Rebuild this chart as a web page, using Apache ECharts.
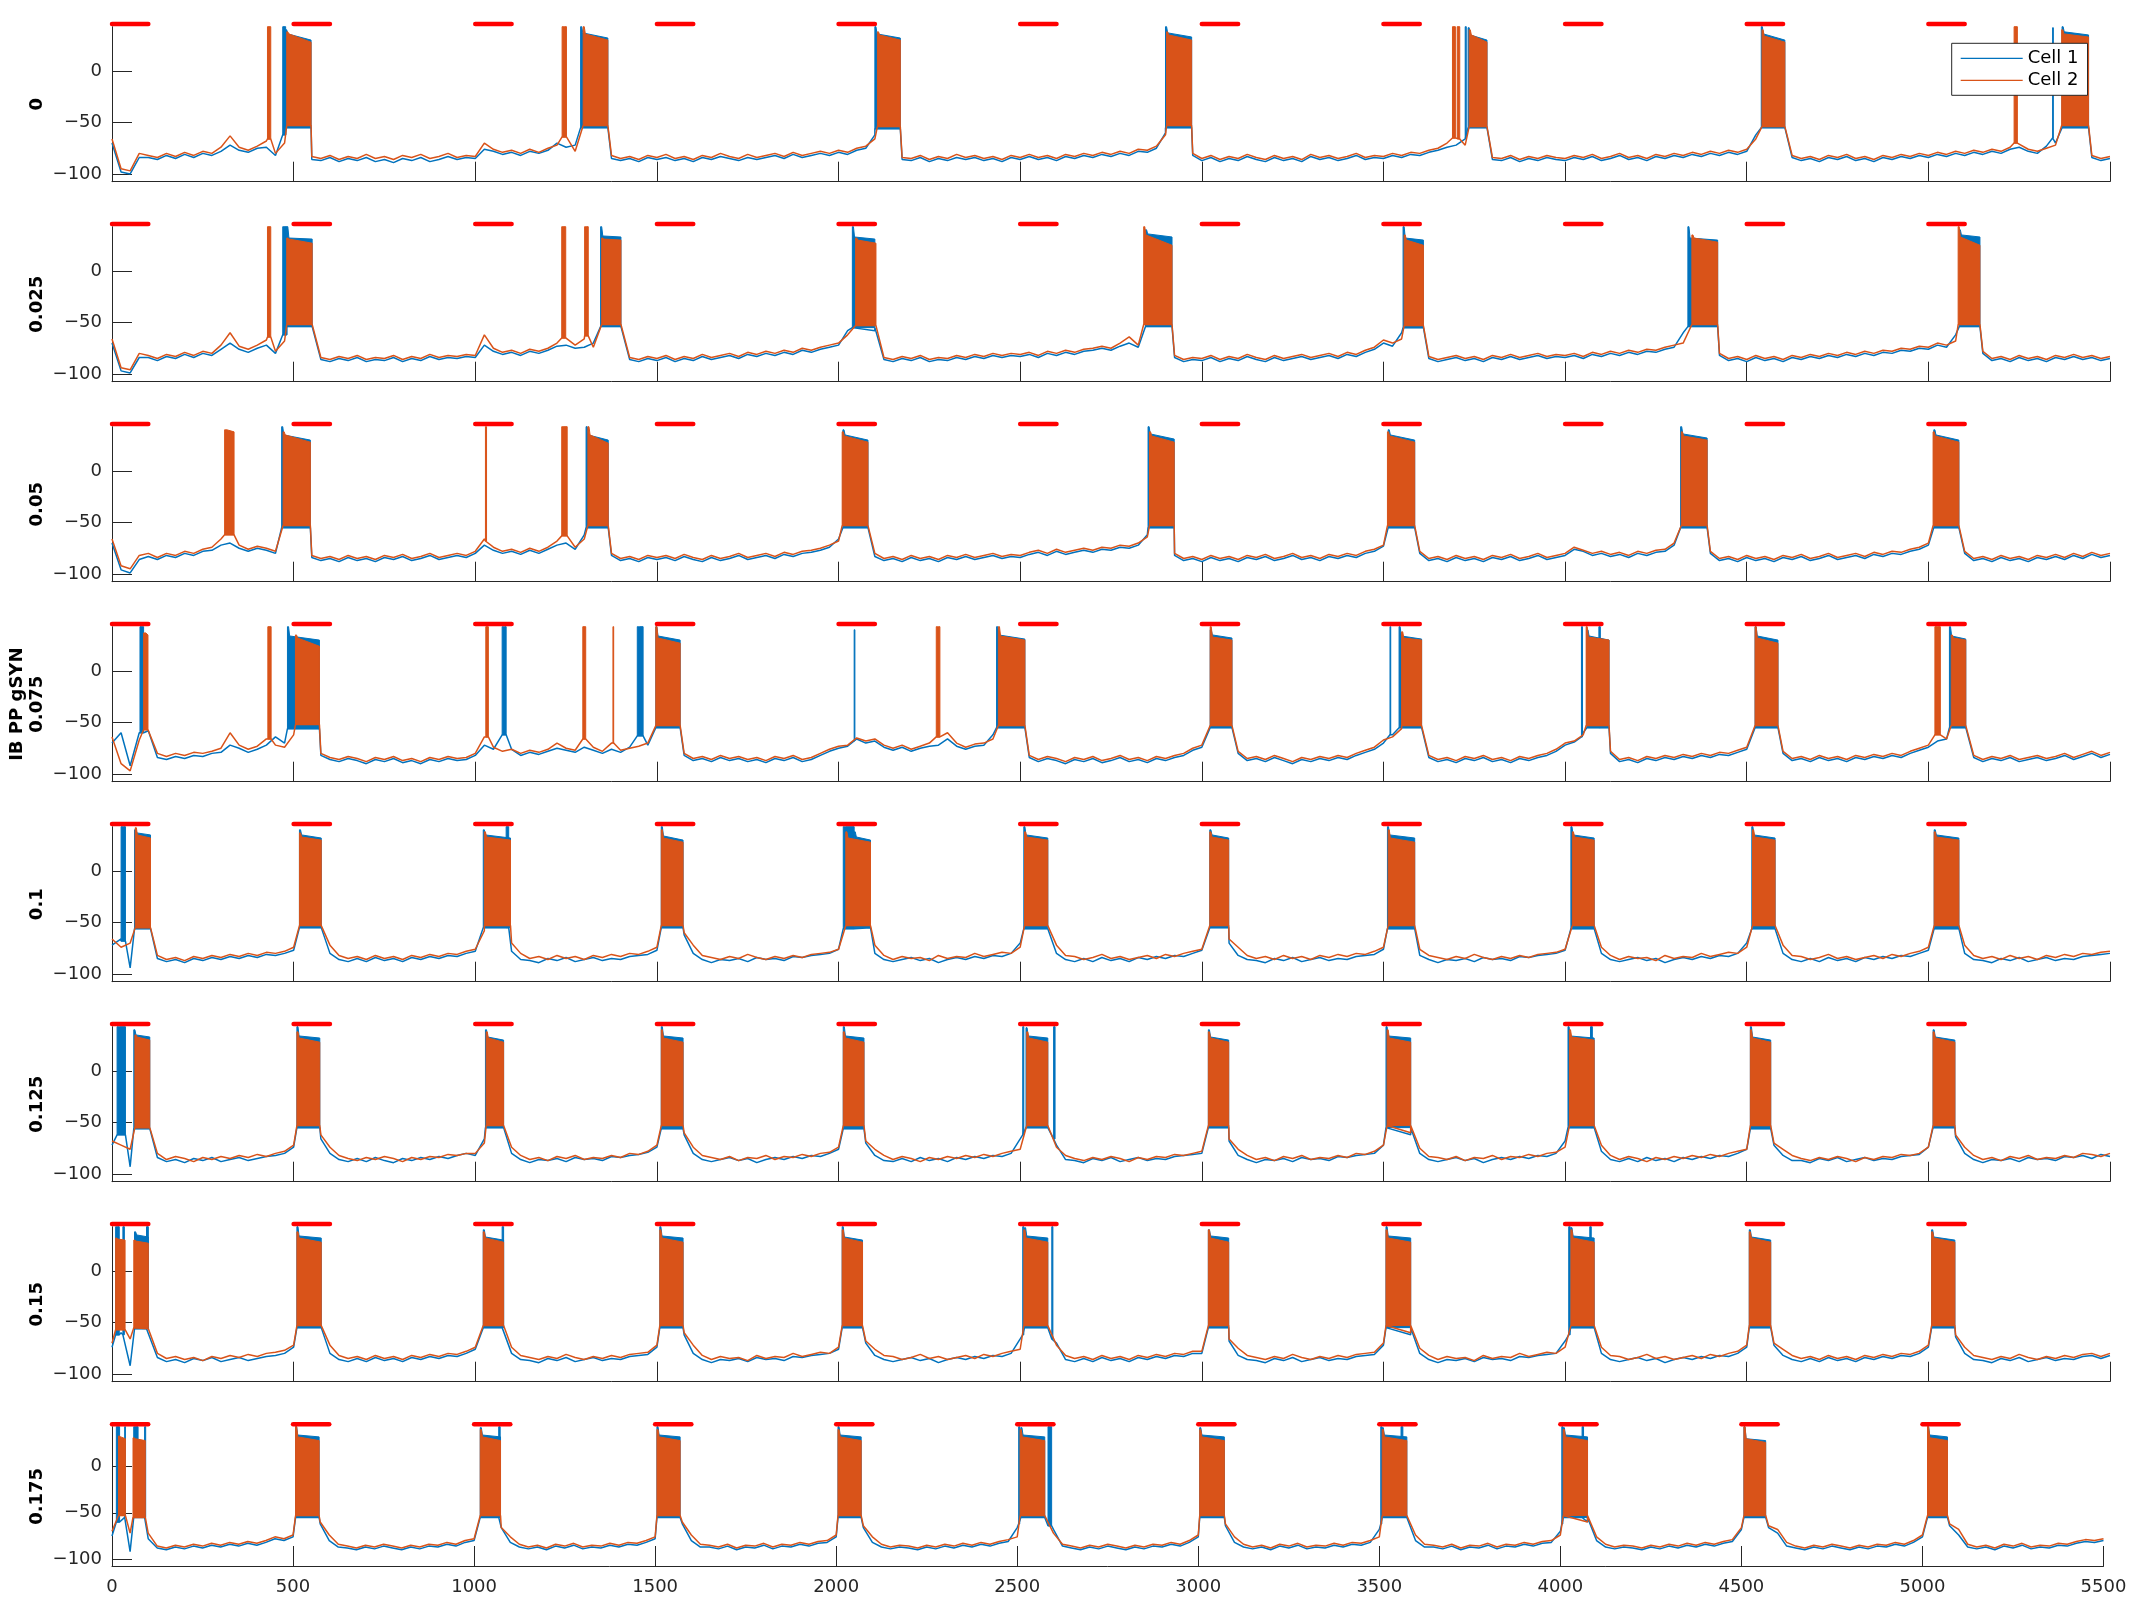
<!DOCTYPE html>
<html><head><meta charset="utf-8">
<script src="https://cdn.jsdelivr.net/npm/echarts@6/dist/echarts.min.js"></script>
<style>html,body{margin:0;padding:0;background:#fff}#chart{width:2133px;height:1600px}</style>
</head><body><div id="chart"></div>
<script>
// ---------- DATA ----------
const gsynLabels = ['0', '0.025', '0.05', '0.075', '0.1', '0.125', '0.15', '0.175'];
const yAxisTitle = 'IB PP gSYN';
const seriesNames = ['Cell 1', 'Cell 2'];
const stimStarts = [0, 500, 1000, 1500, 2000, 2500, 3000, 3500, 4000, 4500, 5000];
const stimDuration = 100;
const stimLevel = 45.6;
const sampleStep = 25;           // ms between trace samples
const xMin = 0, xMax = 5500, xStep = 500;
const yMin = -107.5, yMax = 43;
const yTicks = [-100, -50, 0];

// membrane traces (mV) between bursts, one value every 25 ms from 0 to 5500 ms
const cell2_g0 = [
-66,-95,-97,-80,-82,-84,-80,-83,-79,-82,-78,-80,-74,-63,-74,-77,-73,-68,-80,-70,
-55,-54,-83,-85,-82,-86,-83,-85,-81,-85,-83,-86,-82,-84,-81,-85,-83,-80,-84,-82,
-83,-70,-76,-79,-77,-80,-76,-79,-75,-72,-66,-78,-55,-54,-55,-82,-85,-83,-86,-82,
-84,-81,-85,-83,-86,-82,-84,-80,-83,-85,-81,-84,-82,-80,-83,-79,-82,-80,-78,-80,
-77,-79,-75,-73,-66,-55,-54,-84,-85,-82,-86,-83,-85,-81,-84,-82,-85,-83,-86,-82,
-84,-81,-84,-82,-85,-81,-83,-80,-82,-79,-81,-78,-80,-76,-77,-73,-62,-54,-54,-80,
-85,-82,-86,-83,-85,-81,-84,-86,-82,-85,-83,-86,-81,-84,-82,-85,-83,-80,-84,-82,
-83,-80,-82,-79,-80,-77,-75,-70,-64,-72,-55,-54,-84,-85,-82,-86,-83,-85,-82,-84,
-85,-82,-84,-81,-85,-83,-80,-84,-82,-85,-81,-83,-80,-82,-79,-81,-78,-80,-77,-79,
-76,-66,-55,-54,-55,-82,-85,-83,-86,-82,-84,-81,-85,-83,-86,-82,-84,-81,-83,-80,
-82,-79,-81,-78,-80,-77,-79,-76,-78,-74,-70,-76,-78,-75,-72,-56,-54,-54,-82,-85,-83];
const cell1_g0 = [
-70,-98,-100,-84,-84,-86,-82,-85,-81,-84,-80,-82,-78,-72,-77,-79,-75,-74,-82,-60,
-56,-55,-86,-87,-84,-88,-85,-87,-84,-88,-86,-89,-85,-87,-84,-88,-86,-83,-86,-84,
-85,-76,-78,-81,-79,-82,-78,-80,-77,-70,-74,-72,-57,-55,-56,-85,-87,-85,-88,-84,
-86,-84,-87,-85,-88,-84,-86,-83,-85,-87,-84,-86,-84,-82,-85,-81,-84,-82,-80,-82,
-79,-81,-77,-75,-62,-56,-56,-86,-87,-84,-88,-85,-87,-84,-86,-84,-87,-85,-88,-84,
-86,-83,-86,-84,-87,-83,-85,-82,-84,-81,-83,-80,-82,-78,-79,-75,-60,-56,-55,-82,
-87,-84,-88,-85,-87,-83,-86,-88,-84,-87,-85,-88,-83,-86,-84,-87,-85,-82,-86,-84,
-85,-82,-84,-81,-82,-79,-77,-74,-72,-66,-56,-55,-86,-87,-84,-88,-85,-87,-84,-86,
-87,-84,-86,-83,-87,-85,-82,-86,-84,-87,-83,-85,-82,-84,-81,-83,-80,-82,-79,-81,
-78,-62,-56,-55,-56,-84,-87,-85,-88,-84,-86,-83,-87,-85,-88,-84,-86,-83,-85,-82,
-84,-81,-83,-80,-82,-79,-81,-78,-80,-76,-74,-78,-80,-73,-70,-57,-56,-56,-84,-87,-85];
const cell2_g025 = [
-66,-94,-96,-80,-82,-85,-81,-83,-79,-82,-78,-80,-72,-60,-73,-76,-72,-67,-78,-68,
-55,-53,-58,-84,-86,-83,-85,-82,-86,-84,-85,-82,-86,-83,-85,-81,-84,-82,-83,-81,
-82,-62,-75,-79,-77,-80,-76,-78,-75,-70,-66,-72,-66,-74,-56,-53,-56,-84,-86,-83,
-85,-82,-86,-83,-85,-81,-84,-82,-80,-83,-79,-81,-78,-80,-77,-79,-75,-77,-74,-72,
-70,-62,-55,-53,-56,-84,-86,-83,-85,-82,-86,-84,-85,-82,-84,-81,-83,-80,-82,-80,
-81,-79,-82,-78,-80,-77,-79,-76,-75,-73,-75,-70,-64,-72,-55,-53,-54,-82,-86,-84,
-85,-82,-86,-83,-85,-81,-84,-86,-82,-85,-83,-81,-84,-82,-80,-83,-79,-81,-77,-74,
-67,-70,-66,-54,-55,-83,-86,-84,-82,-85,-83,-86,-82,-84,-81,-84,-82,-80,-83,-81,
-82,-80,-83,-79,-81,-78,-80,-77,-79,-76,-77,-74,-72,-70,-56,-53,-54,-80,-85,-83,
-86,-82,-85,-83,-86,-82,-84,-81,-83,-80,-82,-79,-81,-78,-80,-77,-78,-75,-76,-73,
-74,-70,-72,-68,-54,-53,-78,-85,-83,-86,-82,-85,-83,-86,-82,-84,-81,-84,-82,-85,-83];
const cell1_g025 = [
-70,-97,-99,-84,-84,-87,-83,-85,-81,-84,-80,-82,-76,-70,-76,-79,-75,-72,-80,-62,
-56,-55,-60,-86,-88,-85,-87,-84,-88,-86,-87,-84,-88,-85,-87,-83,-86,-84,-85,-83,
-84,-72,-78,-81,-79,-82,-78,-80,-77,-73,-72,-75,-74,-70,-57,-55,-58,-86,-88,-85,
-87,-84,-88,-85,-87,-83,-86,-84,-82,-85,-81,-83,-80,-82,-79,-81,-77,-79,-76,-74,
-72,-58,-56,-55,-58,-86,-88,-85,-87,-84,-88,-86,-87,-84,-86,-83,-85,-82,-84,-82,
-83,-81,-84,-80,-82,-79,-81,-78,-77,-75,-77,-73,-70,-74,-56,-55,-56,-84,-88,-86,
-87,-84,-88,-85,-87,-83,-86,-88,-84,-87,-85,-83,-86,-84,-82,-85,-81,-83,-79,-76,
-70,-73,-60,-56,-56,-85,-88,-86,-84,-87,-85,-88,-84,-86,-83,-86,-84,-82,-85,-83,
-84,-82,-85,-81,-83,-80,-82,-79,-81,-78,-79,-76,-74,-60,-56,-55,-56,-82,-87,-85,
-88,-84,-87,-85,-88,-84,-86,-83,-85,-82,-84,-81,-83,-80,-82,-79,-80,-77,-78,-75,
-76,-72,-74,-62,-56,-55,-80,-87,-85,-88,-84,-87,-85,-88,-84,-86,-83,-86,-84,-87,-85];
const cell2_g05 = [
-66,-92,-95,-82,-80,-84,-80,-82,-78,-80,-76,-74,-66,-62,-72,-76,-73,-75,-78,-60,
-54,-53,-82,-85,-83,-86,-82,-85,-83,-86,-82,-84,-81,-85,-83,-80,-84,-82,-80,-82,
-78,-66,-74,-78,-76,-79,-75,-78,-74,-68,-63,-74,-66,-54,-53,-80,-85,-83,-86,-82,
-84,-82,-85,-81,-84,-86,-82,-85,-83,-80,-84,-82,-80,-83,-79,-81,-78,-77,-75,-72,
-68,-55,-54,-54,-80,-85,-83,-86,-82,-85,-83,-86,-82,-84,-81,-84,-82,-80,-83,-81,
-82,-79,-77,-80,-76,-79,-77,-75,-77,-74,-75,-72,-73,-70,-64,-54,-54,-80,-85,-83,
-86,-82,-85,-83,-86,-82,-84,-81,-85,-83,-80,-84,-82,-85,-81,-83,-80,-82,-78,-76,
-72,-55,-54,-54,-78,-85,-83,-86,-82,-85,-83,-86,-82,-84,-81,-85,-83,-80,-84,-82,
-80,-74,-77,-80,-78,-81,-79,-82,-78,-80,-77,-76,-70,-55,-54,-54,-78,-85,-83,-86,
-82,-85,-83,-86,-82,-84,-81,-85,-83,-80,-84,-82,-80,-83,-79,-81,-78,-79,-76,-74,
-70,-55,-54,-55,-78,-85,-83,-86,-82,-85,-83,-86,-82,-84,-81,-84,-80,-83,-79,-82,-80];
const cell1_g05 = [
-70,-96,-99,-86,-83,-86,-82,-84,-80,-82,-78,-77,-72,-70,-75,-78,-75,-77,-80,-58,
-56,-55,-84,-87,-85,-88,-84,-87,-85,-88,-84,-86,-83,-87,-85,-82,-86,-84,-82,-84,
-80,-72,-77,-80,-78,-81,-77,-80,-76,-72,-70,-76,-62,-56,-55,-82,-87,-85,-88,-84,
-86,-84,-87,-83,-86,-88,-84,-87,-85,-82,-86,-84,-82,-85,-81,-83,-80,-79,-77,-74,
-66,-56,-56,-56,-83,-87,-85,-88,-84,-87,-85,-88,-84,-86,-83,-86,-84,-82,-85,-83,
-84,-81,-79,-82,-78,-81,-79,-77,-79,-76,-77,-74,-75,-72,-62,-56,-56,-82,-87,-85,
-88,-84,-87,-85,-88,-84,-86,-83,-87,-85,-82,-86,-84,-87,-83,-85,-82,-84,-80,-78,
-73,-56,-56,-56,-80,-87,-85,-88,-84,-87,-85,-88,-84,-86,-83,-87,-85,-82,-86,-84,
-82,-76,-78,-82,-80,-83,-81,-84,-80,-82,-79,-78,-72,-56,-56,-56,-80,-87,-85,-88,
-84,-87,-85,-88,-84,-86,-83,-87,-85,-82,-86,-84,-82,-85,-81,-83,-80,-81,-78,-76,
-72,-56,-56,-56,-80,-87,-85,-88,-84,-87,-85,-88,-84,-86,-83,-86,-82,-85,-81,-84,-82];
const cell2_g075 = [
-64,-90,-97,-67,-57,-80,-83,-80,-82,-79,-80,-78,-75,-60,-72,-76,-73,-66,-72,-74,
-62,-53,-53,-80,-84,-86,-83,-85,-88,-84,-86,-83,-87,-85,-88,-84,-86,-83,-85,-84,
-80,-64,-74,-78,-76,-80,-77,-79,-76,-70,-75,-77,-66,-74,-78,-70,-77,-75,-73,-70,
-55,-53,-53,-80,-85,-83,-86,-82,-85,-83,-86,-84,-87,-83,-85,-82,-86,-84,-80,-76,
-73,-72,-65,-68,-66,-72,-75,-72,-76,-73,-70,-64,-60,-70,-74,-71,-70,-66,-55,-53,
-53,-82,-86,-83,-85,-88,-84,-86,-83,-87,-85,-82,-86,-84,-87,-83,-85,-82,-80,-75,
-72,-55,-53,-55,-78,-85,-83,-86,-82,-85,-88,-84,-86,-83,-85,-82,-84,-80,-77,-74,
-67,-64,-56,-53,-55,-82,-86,-84,-87,-83,-85,-82,-86,-84,-87,-83,-85,-82,-80,-76,
-70,-68,-62,-54,-53,-78,-86,-84,-87,-83,-85,-82,-84,-81,-83,-80,-82,-79,-80,-77,
-74,-55,-53,-54,-78,-85,-83,-86,-82,-85,-83,-86,-82,-84,-81,-83,-80,-82,-78,-75,
-72,-62,-66,-54,-55,-82,-86,-83,-85,-82,-86,-84,-82,-85,-83,-80,-84,-81,-78,-82,-79];
const cell1_g075 = [
-70,-60,-92,-60,-58,-84,-86,-83,-85,-82,-83,-80,-79,-72,-75,-79,-76,-72,-64,-70,
-56,-55,-55,-82,-86,-88,-85,-87,-90,-86,-88,-85,-89,-87,-90,-86,-88,-85,-87,-86,
-82,-72,-76,-62,-76,-82,-79,-81,-78,-75,-77,-79,-74,-77,-80,-76,-79,-74,-63,-72,
-56,-55,-55,-82,-87,-85,-88,-84,-87,-85,-88,-86,-89,-85,-87,-84,-88,-86,-82,-78,
-75,-73,-66,-70,-68,-74,-77,-74,-78,-75,-73,-72,-66,-73,-76,-73,-72,-62,-56,-55,
-55,-84,-88,-85,-87,-90,-86,-88,-85,-89,-87,-84,-88,-86,-89,-85,-87,-84,-82,-77,
-74,-56,-56,-57,-80,-87,-85,-88,-84,-87,-90,-86,-88,-85,-87,-84,-86,-82,-79,-76,
-70,-62,-56,-55,-56,-84,-88,-86,-89,-85,-87,-84,-88,-86,-89,-85,-87,-84,-82,-78,
-72,-69,-60,-56,-55,-80,-88,-86,-89,-85,-87,-84,-86,-83,-85,-82,-84,-81,-82,-79,
-76,-56,-56,-56,-80,-87,-85,-88,-84,-87,-85,-88,-84,-86,-83,-85,-82,-84,-80,-77,
-74,-68,-66,-56,-56,-84,-88,-85,-87,-84,-88,-86,-84,-87,-85,-82,-86,-83,-80,-84,-81];
const cell2_g1 = [
-66,-74,-70,-55,-55,-82,-86,-84,-87,-83,-85,-82,-84,-81,-83,-80,-82,-79,-80,-78,
-74,-55,-54,-58,-72,-82,-85,-83,-86,-82,-85,-83,-86,-82,-84,-81,-83,-80,-81,-78,
-76,-58,-54,-54,-70,-80,-85,-83,-86,-82,-85,-83,-86,-82,-84,-81,-83,-80,-81,-78,
-74,-55,-54,-60,-72,-82,-84,-86,-83,-85,-81,-84,-86,-83,-85,-82,-84,-81,-80,-79,
-76,-56,-54,-54,-72,-82,-86,-83,-85,-84,-87,-82,-85,-83,-84,-80,-83,-81,-79,-80,
-74,-55,-54,-60,-72,-82,-83,-86,-84,-81,-85,-83,-86,-84,-82,-85,-81,-83,-80,-78,
-76,-55,-54,-66,-74,-82,-85,-83,-86,-82,-85,-83,-86,-82,-84,-81,-83,-80,-81,-78,
-74,-55,-54,-54,-76,-82,-84,-86,-83,-85,-81,-84,-86,-83,-85,-82,-84,-81,-80,-79,
-76,-56,-54,-56,-74,-82,-86,-83,-85,-84,-87,-82,-85,-83,-84,-80,-83,-81,-79,-80,
-74,-55,-54,-60,-72,-82,-83,-86,-84,-81,-85,-83,-86,-84,-82,-85,-81,-83,-80,-78,
-74,-55,-54,-55,-72,-82,-85,-83,-86,-82,-85,-83,-86,-82,-84,-81,-83,-80,-81,-79,-78];
const cell1_g1 = [
-72,-66,-94,-56,-56,-85,-88,-86,-89,-85,-87,-84,-86,-83,-85,-82,-84,-81,-82,-80,
-77,-56,-56,-60,-80,-86,-88,-85,-88,-84,-87,-85,-88,-84,-86,-83,-85,-82,-83,-80,
-78,-57,-56,-56,-78,-86,-87,-89,-85,-87,-84,-88,-86,-84,-87,-85,-86,-83,-82,-81,
-77,-56,-56,-62,-80,-86,-89,-86,-87,-85,-88,-84,-86,-85,-87,-83,-84,-82,-81,-80,
-76,-56,-56,-56,-80,-86,-88,-86,-84,-87,-85,-89,-86,-84,-86,-83,-85,-82,-83,-80,
-70,-56,-56,-62,-80,-86,-88,-85,-88,-84,-87,-85,-88,-84,-86,-83,-85,-82,-83,-80,
-77,-56,-56,-70,-82,-86,-87,-89,-85,-87,-84,-88,-86,-84,-87,-85,-86,-83,-82,-81,
-76,-56,-56,-56,-82,-86,-89,-86,-87,-85,-88,-84,-86,-85,-87,-83,-84,-82,-81,-80,
-77,-56,-56,-58,-80,-86,-88,-86,-84,-87,-85,-89,-86,-84,-86,-83,-85,-82,-83,-80,
-70,-56,-56,-62,-80,-86,-88,-85,-88,-84,-87,-85,-88,-84,-86,-83,-85,-82,-83,-80,
-77,-56,-56,-56,-80,-86,-87,-89,-85,-87,-84,-88,-86,-84,-87,-85,-86,-83,-82,-81,-80];
const cell2_g125 = [
-68,-72,-76,-55,-55,-80,-86,-83,-85,-88,-84,-86,-83,-85,-82,-84,-81,-83,-80,-78,
-72,-55,-54,-62,-74,-82,-85,-87,-84,-86,-83,-85,-88,-84,-86,-83,-84,-81,-82,-80,
-80,-70,-54,-56,-74,-82,-86,-84,-87,-83,-85,-82,-86,-84,-85,-82,-84,-80,-81,-78,
-72,-55,-54,-60,-74,-82,-84,-86,-83,-87,-84,-85,-82,-86,-83,-84,-81,-83,-80,-79,
-74,-55,-54,-68,-76,-82,-86,-83,-85,-88,-84,-86,-83,-85,-82,-84,-81,-83,-80,-78,
-76,-58,-54,-56,-74,-82,-85,-87,-84,-86,-83,-85,-88,-84,-86,-83,-84,-81,-82,-80,
-78,-56,-54,-66,-76,-82,-86,-84,-87,-83,-85,-82,-86,-84,-85,-82,-84,-80,-81,-78,
-72,-55,-54,-60,-75,-83,-84,-86,-83,-87,-84,-85,-82,-86,-83,-84,-81,-83,-80,-79,
-74,-55,-54,-55,-72,-82,-86,-83,-85,-88,-84,-86,-83,-85,-82,-84,-81,-83,-80,-78,
-76,-55,-54,-70,-76,-82,-85,-87,-84,-86,-83,-85,-88,-84,-86,-83,-84,-81,-82,-80,
-74,-55,-54,-62,-74,-82,-86,-84,-87,-83,-85,-82,-86,-84,-85,-82,-84,-80,-81,-83,-80];
const cell1_g125 = [
-72,-62,-93,-56,-56,-84,-88,-86,-89,-85,-87,-84,-88,-86,-84,-87,-85,-83,-82,-80,
-74,-56,-56,-66,-80,-86,-88,-85,-88,-84,-87,-89,-85,-87,-84,-86,-83,-85,-82,-80,
-82,-66,-56,-57,-80,-86,-89,-86,-87,-85,-88,-84,-86,-85,-87,-83,-84,-82,-81,-79,
-74,-56,-56,-62,-80,-86,-88,-86,-84,-87,-85,-89,-86,-84,-86,-83,-85,-82,-83,-80,
-76,-56,-56,-70,-82,-87,-88,-85,-88,-84,-87,-85,-88,-84,-86,-83,-85,-82,-83,-80,
-66,-56,-56,-60,-72,-86,-87,-89,-85,-87,-84,-88,-86,-84,-87,-85,-86,-83,-82,-81,
-80,-57,-56,-68,-82,-86,-89,-86,-87,-85,-88,-84,-86,-85,-87,-83,-84,-82,-81,-80,
-72,-56,-56,-62,-80,-86,-88,-86,-84,-87,-85,-89,-86,-84,-86,-83,-85,-82,-83,-80,
-68,-56,-56,-56,-78,-86,-88,-85,-88,-84,-87,-85,-88,-84,-86,-83,-85,-82,-83,-80,
-76,-56,-56,-72,-82,-87,-87,-89,-85,-87,-84,-88,-86,-84,-87,-85,-86,-83,-82,-81,
-74,-56,-56,-64,-80,-86,-89,-86,-87,-85,-88,-84,-86,-85,-87,-83,-84,-82,-85,-81,-83];
const cell2_g15 = [
-70,-56,-66,-55,-56,-80,-85,-83,-86,-84,-87,-83,-85,-82,-84,-81,-83,-80,-79,-77,
-72,-55,-54,-58,-72,-82,-85,-83,-86,-82,-85,-83,-86,-82,-84,-81,-83,-80,-81,-78,
-74,-55,-54,-57,-74,-82,-84,-86,-83,-85,-81,-84,-86,-83,-85,-82,-84,-81,-80,-79,
-72,-55,-54,-60,-72,-82,-86,-83,-85,-84,-87,-82,-85,-83,-84,-80,-83,-81,-79,-80,
-74,-55,-54,-68,-76,-82,-83,-86,-84,-81,-85,-83,-86,-84,-82,-85,-81,-83,-80,-78,
-76,-55,-54,-58,-72,-82,-85,-83,-86,-82,-85,-83,-86,-82,-84,-81,-83,-80,-81,-78,
-78,-56,-54,-66,-75,-82,-84,-86,-83,-85,-81,-84,-86,-83,-85,-82,-84,-81,-80,-79,
-70,-55,-54,-60,-75,-82,-86,-83,-85,-84,-87,-82,-85,-83,-84,-80,-83,-81,-79,-80,
-74,-56,-54,-56,-74,-82,-83,-86,-84,-81,-85,-83,-86,-84,-82,-85,-81,-83,-80,-78,
-72,-55,-54,-70,-76,-82,-85,-83,-86,-82,-85,-83,-86,-82,-84,-81,-83,-80,-81,-78,
-72,-55,-54,-62,-74,-82,-84,-86,-83,-85,-81,-84,-86,-83,-85,-82,-84,-81,-80,-83,-80];
const cell1_g15 = [
-74,-60,-92,-56,-56,-84,-88,-86,-89,-85,-87,-84,-88,-86,-84,-87,-85,-83,-82,-80,
-74,-56,-56,-60,-80,-86,-88,-85,-88,-84,-87,-85,-88,-84,-86,-83,-85,-82,-83,-80,
-76,-56,-56,-58,-80,-86,-87,-89,-85,-87,-84,-88,-86,-84,-87,-85,-86,-83,-82,-81,
-74,-56,-56,-62,-80,-86,-89,-86,-87,-85,-88,-84,-86,-85,-87,-83,-84,-82,-81,-80,
-76,-56,-56,-70,-82,-86,-88,-86,-84,-87,-85,-89,-86,-84,-86,-83,-85,-82,-83,-80,
-66,-56,-56,-60,-70,-86,-88,-85,-88,-84,-87,-85,-88,-84,-86,-83,-85,-82,-83,-80,
-80,-57,-56,-68,-82,-86,-87,-89,-85,-87,-84,-88,-86,-84,-87,-85,-86,-83,-82,-81,
-72,-56,-56,-62,-80,-86,-89,-86,-87,-85,-88,-84,-86,-85,-87,-83,-84,-82,-81,-80,
-68,-56,-56,-56,-80,-86,-88,-86,-84,-87,-85,-89,-86,-84,-86,-83,-85,-82,-83,-80,
-74,-56,-56,-72,-82,-86,-88,-85,-88,-84,-87,-85,-88,-84,-86,-83,-85,-82,-83,-80,
-74,-56,-56,-64,-80,-86,-87,-89,-85,-87,-84,-88,-86,-84,-87,-85,-86,-83,-82,-85,-82];
const cell2_g175 = [
-70,-55,-72,-55,-72,-86,-88,-85,-87,-84,-86,-83,-85,-82,-84,-81,-83,-80,-76,-78,
-74,-55,-54,-60,-74,-84,-86,-88,-85,-87,-84,-86,-88,-85,-87,-84,-85,-82,-84,-80,
-78,-56,-54,-66,-76,-84,-87,-85,-88,-84,-86,-83,-87,-85,-86,-83,-85,-82,-83,-80,
-76,-55,-54,-60,-74,-84,-85,-87,-84,-88,-85,-86,-83,-87,-84,-85,-82,-84,-81,-80,
-74,-55,-54,-64,-76,-84,-87,-85,-86,-88,-85,-87,-84,-86,-83,-85,-82,-84,-81,-79,
-76,-56,-54,-58,-72,-84,-86,-88,-85,-87,-84,-86,-88,-85,-87,-84,-85,-82,-84,-80,
-74,-55,-54,-62,-76,-84,-87,-85,-88,-84,-86,-83,-87,-85,-86,-83,-85,-82,-83,-80,
-76,-55,-54,-58,-74,-84,-85,-87,-84,-88,-85,-86,-83,-87,-84,-85,-82,-84,-81,-80,
-74,-55,-54,-60,-76,-84,-87,-85,-86,-88,-85,-87,-84,-86,-83,-85,-82,-84,-81,-79,
-66,-55,-54,-64,-68,-82,-86,-88,-85,-87,-84,-86,-88,-85,-87,-84,-85,-82,-84,-80,
-74,-55,-54,-62,-68,-84,-87,-85,-88,-84,-86,-83,-87,-85,-86,-83,-84,-81,-79,-80,-78];
const cell1_g175 = [
-75,-60,-92,-56,-78,-88,-90,-87,-89,-86,-88,-85,-87,-84,-86,-83,-85,-82,-78,-80,
-76,-56,-56,-62,-80,-87,-88,-90,-87,-89,-86,-88,-90,-87,-89,-86,-87,-84,-86,-82,
-80,-57,-56,-66,-82,-87,-89,-87,-90,-86,-88,-85,-89,-87,-88,-85,-87,-84,-85,-82,
-78,-56,-56,-62,-80,-87,-87,-89,-86,-90,-87,-88,-85,-89,-86,-87,-84,-86,-83,-82,
-76,-56,-56,-66,-82,-87,-89,-87,-88,-90,-87,-89,-86,-88,-85,-87,-84,-86,-83,-81,
-66,-56,-56,-60,-68,-86,-88,-90,-87,-89,-86,-88,-90,-87,-89,-86,-87,-84,-86,-82,
-76,-56,-56,-64,-82,-87,-89,-87,-90,-86,-88,-85,-89,-87,-88,-85,-87,-84,-85,-82,
-68,-56,-56,-60,-80,-87,-87,-89,-86,-90,-87,-88,-85,-89,-86,-87,-84,-86,-83,-82,
-70,-56,-56,-60,-80,-87,-89,-87,-88,-90,-87,-89,-86,-88,-85,-87,-84,-86,-83,-81,
-68,-56,-56,-66,-72,-86,-88,-90,-87,-89,-86,-88,-90,-87,-89,-86,-87,-84,-86,-82,
-76,-56,-56,-64,-74,-87,-89,-87,-90,-86,-88,-85,-89,-87,-88,-85,-86,-83,-81,-82,-80];

// spike bursts: [start ms, end ms, trough/plateau mV, first spike peak, peak after onset, last peak]
const cell2Bursts_g0 = [[428,437,-66,45,45,45],[481,548,-53,38,36,28],[1239,1251,-64,45,45,43],[1297,1365,-53,43,36,30],[2107,2170,-54,38,35,30],[2903,2972,-53,38,35,30],[3690,3698,-65,45,45,45],[3703,3710,-66,45,45,45],[3736,3785,-54,40,35,28],[4542,4605,-54,40,34,28],[5236,5245,-70,45,45,45],[5367,5441,-53,40,36,33]];
const cell1Bursts_g0 = [[470,478,-62,45,45,45],[478,548,-55,40,36,30],[1290,1365,-55,45,37,32],[2100,2170,-56,45,36,32],[2900,2972,-55,45,37,33],[3725,3728,-65,45,45,45],[3733,3785,-55,42,35,30],[4540,4605,-55,45,36,30],[5342,5344,-65,42,42,42],[5368,5441,-55,45,38,35]];
const cell2Bursts_g025 = [[428,437,-64,45,45,45],[481,551,-52,32,31,27],[1238,1249,-65,45,45,45],[1301,1311,-63,45,45,45],[1348,1401,-52,32,31,30],[2047,2103,-53,32,30,27],[2840,2918,-52,45,35,25],[3557,3610,-53,35,30,25],[4349,4420,-52,35,32,28],[5082,5142,-52,45,33,25]];
const cell1Bursts_g025 = [[470,481,-62,45,45,45],[481,551,-54,45,32,31],[1345,1401,-54,45,34,33],[2038,2100,-55,45,33,31],[2845,2918,-54,40,36,33],[3554,3610,-55,45,32,30],[4338,4420,-54,45,32,30],[5085,5142,-54,40,35,33]];
const cell2Bursts_g05 = [[310,336,-62,40,40,38],[471,546,-53,38,35,28],[1028,1031,-68,43,43,43],[1238,1253,-63,45,45,45],[1310,1366,-53,43,35,27],[2010,2081,-53,38,34,28],[2856,2924,-53,38,34,28],[3511,3586,-53,38,34,28],[4320,4391,-53,38,34,30],[5013,5084,-53,38,34,28]];
const cell1Bursts_g05 = [[467,546,-55,45,35,30],[1305,1366,-55,45,35,30],[2012,2081,-55,40,35,30],[2852,2924,-55,45,36,31],[3513,3586,-55,40,35,30],[4318,4391,-55,45,36,32],[5015,5084,-55,40,35,30]];
const cell2Bursts_g075 = [[87,99,-57,37,37,35],[429,438,-66,45,45,45],[505,571,-52,35,32,24],[1029,1036,-64,45,45,45],[1296,1304,-66,45,45,45],[1379,1381,-70,45,45,45],[1497,1564,-53,45,32,27],[2269,2279,-64,45,45,45],[2440,2513,-53,46,34,30],[3023,3083,-53,45,33,30],[3550,3605,-53,38,32,30],[4058,4121,-53,45,33,30],[4523,4586,-53,43,32,27],[5018,5033,-62,45,45,45],[5063,5103,-53,35,32,30]];
const cell1Bursts_g075 = [[77,87,-60,45,45,45],[483,571,-56,45,34,30],[1074,1085,-62,45,45,45],[1446,1462,-63,45,45,45],[1497,1564,-55,45,34,30],[2043,2045,-68,40,40,40],[2435,2513,-55,46,35,31],[3023,3083,-55,40,35,32],[3518,3520,-62,45,45,45],[3543,3605,-55,45,34,31],[4045,4048,-64,45,45,45],[4060,4121,-55,40,34,30],[4093,4097,-55,45,45,45],[4523,4586,-55,45,34,30],[5058,5103,-55,45,34,31]];
const cell2Bursts_g1 = [[64,106,-55,42,35,32],[516,576,-53,37,33,30],[1025,1097,-53,38,33,30],[1512,1572,-53,40,32,28],[2020,2088,-53,38,32,28],[2512,2576,-53,38,33,30],[3022,3074,-53,38,33,30],[3513,3586,-53,40,32,28],[4020,4080,-53,38,33,30],[4516,4578,-53,40,33,30],[5016,5084,-53,38,33,30]];
const cell1Bursts_g1 = [[25,37,-68,45,45,45],[62,106,-56,40,37,35],[516,576,-55,40,35,32],[1022,1097,-55,40,35,32],[1085,1092,-55,45,45,45],[1512,1572,-55,45,34,30],[2013,2043,-56,45,45,45],[2043,2088,-55,38,33,30],[2510,2576,-56,45,35,32],[3022,3074,-55,40,35,32],[3511,3586,-56,45,35,32],[4016,4080,-56,45,35,32],[4514,4578,-56,45,35,32],[5016,5084,-56,40,35,32]];
const cell2Bursts_g125 = [[63,104,-55,35,33,30],[509,572,-53,38,32,28],[1030,1078,-53,38,32,28],[1512,1572,-53,40,32,28],[2013,2070,-53,38,32,28],[2518,2576,-53,38,32,28],[3018,3074,-53,38,32,28],[3510,3575,-53,40,32,28],[4012,4080,-53,40,33,30],[4510,4566,-53,40,32,28],[5013,5073,-53,38,32,28]];
const cell1Bursts_g125 = [[14,37,-62,45,45,45],[60,104,-56,40,35,33],[509,572,-55,45,34,32],[1028,1078,-55,40,33,30],[1512,1572,-56,45,34,32],[2013,2070,-56,45,34,32],[2507,2510,-62,45,45,45],[2516,2576,-55,42,34,32],[2592,2596,-66,45,45,45],[3018,3074,-55,40,33,30],[3507,3575,-55,45,34,32],[4008,4080,-55,45,34,32],[4070,4075,-55,45,45,45],[4510,4566,-56,45,33,30],[5013,5073,-55,40,33,30]];
const cell2Bursts_g15 = [[10,36,-57,32,31,30],[60,100,-55,30,29,27],[509,576,-53,38,32,28],[1022,1078,-53,38,32,28],[1508,1572,-53,40,32,28],[2010,2066,-53,40,32,28],[2510,2576,-53,40,32,28],[3018,3074,-53,40,32,28],[3507,3575,-53,40,32,28],[4016,4080,-53,40,32,28],[4507,4566,-53,38,32,28],[5009,5073,-53,38,32,28]];
const cell1Bursts_g15 = [[10,20,-62,45,45,45],[30,34,-62,45,45,45],[62,100,-56,38,35,33],[95,100,-56,45,45,45],[509,576,-55,45,34,32],[1022,1078,-55,40,33,30],[1074,1078,-55,45,45,45],[1508,1572,-55,45,34,32],[2010,2066,-55,45,33,30],[2507,2510,-62,45,45,45],[2512,2576,-55,42,34,32],[2587,2590,-66,45,45,45],[3018,3074,-55,40,34,32],[3507,3575,-55,45,34,32],[4010,4014,-62,45,45,45],[4016,4080,-55,42,34,32],[4068,4072,-55,45,45,45],[4507,4566,-55,40,33,30],[5009,5073,-55,40,33,30]];
const cell2Bursts_g175 = [[18,37,-53,33,32,30],[58,92,-55,31,30,28],[507,572,-53,45,32,28],[1017,1073,-53,40,32,28],[1505,1569,-53,40,32,28],[2005,2069,-53,40,32,28],[2508,2576,-53,40,32,28],[3004,3072,-53,40,32,28],[3508,3576,-53,40,32,28],[4008,4075,-53,40,32,28],[4507,4567,-53,45,30,26],[5014,5069,-53,45,31,28]];
const cell1Bursts_g175 = [[12,21,-60,45,45,45],[35,37,-55,45,45,45],[60,72,-55,45,45,45],[90,93,-55,45,45,45],[507,572,-55,45,34,32],[1017,1073,-55,42,34,32],[1068,1072,-55,45,45,45],[1505,1569,-55,45,34,32],[2005,2069,-55,45,34,32],[2504,2507,-62,45,45,45],[2510,2576,-55,42,34,32],[2585,2595,-64,45,45,45],[3004,3072,-55,42,34,32],[3504,3507,-62,45,45,45],[3508,3576,-55,42,34,32],[3560,3565,-55,45,45,45],[4004,4007,-62,45,45,45],[4008,4075,-55,42,34,32],[4060,4064,-55,45,45,45],[4507,4567,-55,45,30,28],[5014,5069,-55,45,34,32]];

// ---------- CHART ----------
const panels = [
  {label: gsynLabels[0], c1: cell1_g0,    c2: cell2_g0,    b1: cell1Bursts_g0,    b2: cell2Bursts_g0},
  {label: gsynLabels[1], c1: cell1_g025,  c2: cell2_g025,  b1: cell1Bursts_g025,  b2: cell2Bursts_g025},
  {label: gsynLabels[2], c1: cell1_g05,   c2: cell2_g05,   b1: cell1Bursts_g05,   b2: cell2Bursts_g05},
  {label: gsynLabels[3], c1: cell1_g075,  c2: cell2_g075,  b1: cell1Bursts_g075,  b2: cell2Bursts_g075},
  {label: gsynLabels[4], c1: cell1_g1,    c2: cell2_g1,    b1: cell1Bursts_g1,    b2: cell2Bursts_g1},
  {label: gsynLabels[5], c1: cell1_g125,  c2: cell2_g125,  b1: cell1Bursts_g125,  b2: cell2Bursts_g125},
  {label: gsynLabels[6], c1: cell1_g15,   c2: cell2_g15,   b1: cell1Bursts_g15,   b2: cell2Bursts_g15},
  {label: gsynLabels[7], c1: cell1_g175,  c2: cell2_g175,  b1: cell1Bursts_g175,  b2: cell2Bursts_g175}
];
const BLUE = '#0072BD', ORANGE = '#D95319', RED = '#FF0000', AX = '#262626';
const FONT = '"DejaVu Sans", "Liberation Sans", sans-serif';
const ONSET_MS = 3;

// trace = samples outside bursts + the burst plateau end points
function buildTrace(samples, bursts) {
  const pts = [];
  samples.forEach((v, i) => {
    const t = i * sampleStep;
    if (!bursts.some(b => t > b[0] && t < b[1])) pts.push([t, v]);
  });
  bursts.forEach(b => { pts.push([b[0], b[2]]); pts.push([b[1], b[2]]); });
  pts.sort((a, b) => a[0] - b[0]);
  return pts;
}

function burstRenderer(color) {
  return function (params, api) {
    const cs = params.coordSys;
    const cy = y => Math.max(cs.y, Math.min(cs.y + cs.height, y));
    const t0 = api.value(0), t1 = api.value(1), lo = api.value(2);
    const p0 = api.value(3), pa = api.value(4), p1 = api.value(5);
    const dataPts = [[t0, lo], [t0, p0]];
    if (t1 - t0 > 3 * ONSET_MS) {
      dataPts.push([t0 + ONSET_MS, p0]);
      dataPts.push([t0 + 2 * ONSET_MS, pa]);
    }
    dataPts.push([t1, p1]);
    dataPts.push([t1, lo]);
    const pts = dataPts.map(d => { const c = api.coord(d); return [c[0], cy(c[1])]; });
    return {type: 'polygon', shape: {points: pts}, style: {fill: color, stroke: color, lineWidth: 1}};
  };
}
function stimRenderer(params, api) {
  const a = api.coord([api.value(0), api.value(2)]);
  const b = api.coord([api.value(1), api.value(2)]);
  return {type: 'line', shape: {x1: a[0], y1: a[1], x2: b[0], y2: b[1]},
          style: {stroke: RED, lineWidth: 4.5, lineCap: 'round'}};
}

const grids = [], xAxes = [], yAxes = [], series = [], graphics = [];
panels.forEach((p, k) => {
  const last = k === panels.length - 1;
  const top = last ? 1426.7 : 26.7 + 200 * k;
  const height = last ? 139.3 : 155;
  const width = last ? 1991.5 : 1998;
  grids.push({left: 112, top: top, width: width, height: height});
  xAxes.push({
    type: 'value', gridIndex: k, min: xMin, max: xMax, interval: xStep,
    axisLine: {show: true, onZero: false, lineStyle: {color: AX, width: 1}},
    axisTick: {show: true, inside: true, length: 20, lineStyle: {color: AX, width: 1}},
    axisLabel: {show: last, fontSize: 18, fontFamily: FONT, color: AX, margin: 12, formatter: v => String(v)},
    splitLine: {show: false}
  });
  yAxes.push({
    type: 'value', gridIndex: k, min: yMin, max: yMax,
    axisLine: {show: true, onZero: false, lineStyle: {color: AX, width: 1}},
    axisTick: {show: true, inside: true, length: 20, customValues: yTicks, lineStyle: {color: AX, width: 1}},
    axisLabel: {show: true, customValues: yTicks, fontSize: 18, fontFamily: FONT, color: AX, margin: 10,
                formatter: v => String(v).replace('-', '\u2212')},
    splitLine: {show: false}
  });
  series.push({name: seriesNames[0], type: 'line', xAxisIndex: k, yAxisIndex: k, data: buildTrace(p.c1, p.b1),
    symbol: 'none', showSymbol: false, lineStyle: {color: BLUE, width: 1.5}, itemStyle: {color: BLUE}, z: 2, animation: false});
  series.push({name: seriesNames[0] + ' bursts', type: 'custom', xAxisIndex: k, yAxisIndex: k, data: p.b1,
    renderItem: burstRenderer(BLUE), z: 3, animation: false});
  series.push({name: seriesNames[1], type: 'line', xAxisIndex: k, yAxisIndex: k, data: buildTrace(p.c2, p.b2),
    symbol: 'none', showSymbol: false, lineStyle: {color: ORANGE, width: 1.5}, itemStyle: {color: ORANGE}, z: 4, animation: false});
  series.push({name: seriesNames[1] + ' bursts', type: 'custom', xAxisIndex: k, yAxisIndex: k, data: p.b2,
    renderItem: burstRenderer(ORANGE), z: 5, animation: false});
  series.push({name: 'stimulus', type: 'custom', xAxisIndex: k, yAxisIndex: k,
    data: stimStarts.map(s => [s, s + stimDuration, stimLevel]), renderItem: stimRenderer, z: 6, animation: false});

  const cy = top + height / 2;
  const labelStyle = {fill: '#000', fontSize: 18, fontWeight: 'bold', fontFamily: FONT,
                      textAlign: 'center', textVerticalAlign: 'middle', align: 'center', verticalAlign: 'middle'};
  graphics.push({type: 'text', x: 37.5, y: cy, rotation: Math.PI / 2, style: Object.assign({text: p.label}, labelStyle)});
  if (k === 3) {
    graphics.push({type: 'text', x: 17, y: cy, rotation: Math.PI / 2, style: Object.assign({text: yAxisTitle}, labelStyle)});
  }
});

const chart = echarts.init(document.getElementById('chart'), null, {renderer: 'canvas'});
chart.setOption({
  animation: false,
  backgroundColor: '#fff',
  grid: grids, xAxis: xAxes, yAxis: yAxes, series: series,
  graphic: graphics,
  legend: {
    data: seriesNames.map((n, i) => ({name: n, icon: 'rect', itemStyle: {color: i === 0 ? BLUE : ORANGE}})),
    orient: 'vertical', left: 1951.7, top: 43.3, z: 20,
    itemWidth: 62, itemHeight: 1.3, itemGap: 4, padding: [6, 9, 6, 9],
    backgroundColor: '#fff', borderColor: AX, borderWidth: 1, selectedMode: false,
    textStyle: {fontSize: 18, fontFamily: FONT, color: '#000'}
  }
});
</script>
</body></html>
